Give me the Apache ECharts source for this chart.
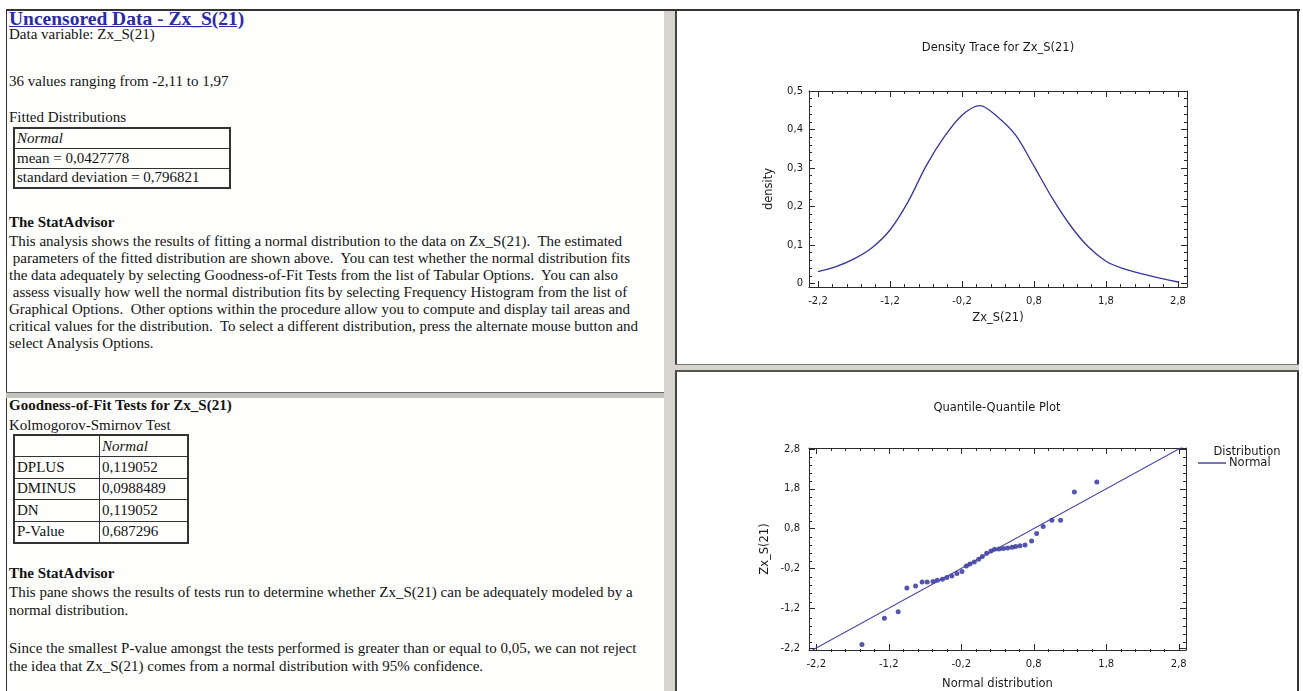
<!DOCTYPE html>
<html><head><meta charset="utf-8">
<script src="https://cdn.jsdelivr.net/npm/echarts@6/dist/echarts.min.js"></script>
<style>
html,body{margin:0;padding:0;width:1303px;height:691px;overflow:hidden;background:#ffffff;}
.abs{position:absolute;}
.serif{font-family:"Liberation Serif","Times New Roman",serif;color:#141414;font-size:15px;line-height:17px;white-space:pre;}
.pane{position:absolute;background:#fefefc;box-sizing:border-box;}
table.st{position:absolute;border-collapse:collapse;border:2px solid #333;font-family:"Liberation Serif","Times New Roman",serif;font-size:15px;line-height:17px;color:#141414;}
table.st td{border:1px solid #333;padding:0 2px;white-space:nowrap;}
#chart{position:absolute;left:0;top:0;width:1303px;height:691px;z-index:5;}
</style></head>
<body>
<!-- frame -->
<div class="pane" style="left:6px;top:11px;width:658px;height:381px;border-left:1px solid #333;"></div>
<div class="abs" style="left:6px;top:392px;width:658px;height:6px;background:#c4c4bc;border-top:1px solid #666;box-sizing:border-box;"></div>
<div class="pane" style="left:6px;top:398px;width:658px;height:293px;border-left:1px solid #333;"></div>
<div class="abs" style="left:664px;top:11px;width:11px;height:680px;background:#d6d4cc;"></div>
<div class="pane" style="left:675px;top:11px;width:624px;height:353px;background:#fff;border-left:2px solid #444;border-right:2px solid #333;"></div>
<div class="abs" style="left:675px;top:364px;width:624px;height:8px;background:#d6d4cc;border-top:1px solid #777;border-bottom:2px solid #555;box-sizing:border-box;"></div>
<div class="pane" style="left:675px;top:372px;width:624px;height:319px;background:#fff;border-left:2px solid #444;border-right:2px solid #333;"></div>
<div class="abs" style="left:6px;top:9px;width:1294px;height:2px;background:#333;"></div>

<!-- left top text -->
<div class="abs serif" style="left:9px;top:8px;font-size:19.5px;line-height:22px;font-weight:bold;color:#2b2ba6;text-decoration:underline;">Uncensored Data - Zx_S(21)</div>
<div class="abs serif" style="left:9px;top:25.5px;">Data variable: Zx_S(21)</div>
<div class="abs serif" style="left:9px;top:72.5px;">36 values ranging from -2,11 to 1,97</div>
<div class="abs serif" style="left:9px;top:108.5px;">Fitted Distributions</div>
<table class="st" style="left:13px;top:127px;width:218px;">
<tr style="height:20px"><td><i>Normal</i></td></tr>
<tr style="height:20px"><td>mean = 0,0427778</td></tr>
<tr style="height:20px"><td>standard deviation = 0,796821</td></tr>
</table>
<div class="abs serif" style="left:9px;top:213.5px;font-weight:bold;">The StatAdvisor</div>
<div class="abs serif" style="left:9px;top:232.5px;">This analysis shows the results of fitting a normal distribution to the data on Zx_S(21).  The estimated
 parameters of the fitted distribution are shown above.  You can test whether the normal distribution fits
the data adequately by selecting Goodness-of-Fit Tests from the list of Tabular Options.  You can also
 assess visually how well the normal distribution fits by selecting Frequency Histogram from the list of
Graphical Options.  Other options within the procedure allow you to compute and display tail areas and
critical values for the distribution.  To select a different distribution, press the alternate mouse button and
select Analysis Options.</div>

<!-- left bottom text -->
<div class="abs serif" style="left:9px;top:396.5px;font-weight:bold;">Goodness-of-Fit Tests for Zx_S(21)</div>
<div class="abs serif" style="left:9px;top:416.5px;">Kolmogorov-Smirnov Test</div>
<table class="st" style="left:13px;top:434px;width:176px;">
<tr style="height:21.6px"><td style="width:80px"></td><td><i>Normal</i></td></tr>
<tr style="height:21.6px"><td>DPLUS</td><td>0,119052</td></tr>
<tr style="height:21.6px"><td>DMINUS</td><td>0,0988489</td></tr>
<tr style="height:21.6px"><td>DN</td><td>0,119052</td></tr>
<tr style="height:21.6px"><td>P-Value</td><td>0,687296</td></tr>
</table>
<div class="abs serif" style="left:9px;top:564.5px;font-weight:bold;">The StatAdvisor</div>
<div class="abs serif" style="left:9px;top:582.6px;line-height:18.7px;">This pane shows the results of tests run to determine whether Zx_S(21) can be adequately modeled by a
normal distribution.

Since the smallest P-value amongst the tests performed is greater than or equal to 0,05, we can not reject
the idea that Zx_S(21) comes from a normal distribution with 95% confidence.</div>

<div id="chart"></div>
<script>
// ---- data ----
const densityX = [-2.2, -1.95, -1.7, -1.45, -1.2, -0.95, -0.7, -0.45, -0.2, 0.05, 0.3, 0.55, 0.8, 1.05, 1.3, 1.55, 1.8, 2.05, 2.3, 2.55, 2.8];
const densityY = [0.031, 0.044, 0.064, 0.093, 0.139, 0.212, 0.305, 0.380, 0.437, 0.462, 0.432, 0.384, 0.305, 0.223, 0.152, 0.096, 0.058, 0.038, 0.025, 0.014, 0.004];

const qqTheoretical = [-1.57, -1.26, -1.07, -0.95, -0.83, -0.74, -0.67, -0.59, -0.53, -0.46, -0.40, -0.33, -0.26, -0.19,
  -0.13, -0.08, -0.02, 0.04, 0.09, 0.15, 0.21, 0.26, 0.32, 0.38, 0.44, 0.50, 0.55,
  0.61, 0.68, 0.77, 0.84, 0.93, 1.05, 1.17, 1.36, 1.67];
const qqSample = [-2.11, -1.45, -1.29, -0.69, -0.64, -0.54, -0.54, -0.53, -0.50, -0.47, -0.43, -0.39, -0.33, -0.28,
  -0.14, -0.09, -0.04, 0.03, 0.10, 0.18, 0.24, 0.28, 0.29, 0.30, 0.31, 0.33, 0.35,
  0.37, 0.39, 0.49, 0.68, 0.85, 1.01, 1.01, 1.72, 1.97];

const fitLineX = [-2.3, 2.9];
const fitLineY = [-2.3, 2.9];

const xTickValues = [-2.2, -1.2, -0.2, 0.8, 1.8, 2.8];
const xTickLabels = ['-2,2', '-1,2', '-0,2', '0,8', '1,8', '2,8'];
const densityYTickValues = [0, 0.1, 0.2, 0.3, 0.4, 0.5];
const densityYTickLabels = ['0', '0,1', '0,2', '0,3', '0,4', '0,5'];
const qqYTickValues = [-2.2, -1.2, -0.2, 0.8, 1.8, 2.8];
const qqYTickLabels = ['-2,2', '-1,2', '-0,2', '0,8', '1,8', '2,8'];

// ---- helpers ----
const FONT = 'DejaVu Sans';
const AX = '#2a2a2a';
const TXT = '#1a1a1a';
function minorValues(ticks, n, min, max) {
  const step = (ticks[1] - ticks[0]) / n;
  const out = [];
  const k0 = Math.ceil((min - ticks[0]) / step - 1e-9);
  const k1 = Math.floor((max - ticks[0]) / step + 1e-9);
  for (let k = k0; k <= k1; k++) {
    if (((k % n) + n) % n === 0) continue;
    out.push(Math.round((ticks[0] + k * step) * 10000) / 10000);
  }
  return out;
}
function labeler(vals, labels) {
  return function (v) {
    for (let i = 0; i < vals.length; i++) if (Math.abs(vals[i] - v) < 1e-6) return labels[i];
    return '';
  };
}
function axis(o) {
  const a = {
    type: 'value', gridIndex: o.grid, position: o.pos, min: o.min, max: o.max,
    axisLine: { show: !o.minor, onZero: false, lineStyle: { color: AX, width: 1 } },
    axisTick: { show: true, inside: true, length: o.minor ? 3 : 6, customValues: o.ticks, lineStyle: { color: AX, width: 1 } },
    axisLabel: { show: !!o.labels, margin: o.margin || 8, fontSize: 10, color: TXT, fontFamily: FONT },
    splitLine: { show: false }
  };
  if (o.labels) {
    a.axisLabel.customValues = o.ticks;
    a.axisLabel.formatter = labeler(o.ticks, o.labels);
  }
  if (o.name) {
    a.name = o.name; a.nameLocation = 'middle'; a.nameGap = o.nameGap;
    a.nameTextStyle = { fontSize: 11.5, color: TXT, fontFamily: FONT };
  }
  return a;
}

const dXMin = -2.325, dXMax = 2.925, dYMin = -0.009, dYMax = 0.5;
const qXMin = -2.3, qXMax = 2.9, qYMin = -2.25, qYMax = 2.825;
const dXMinor = minorValues(xTickValues, 5, dXMin, dXMax);
const dYMinor = minorValues(densityYTickValues, 5, dYMin, dYMax);
const qXMinor = minorValues(xTickValues, 5, qXMin, qXMax);
const qYMinor = minorValues(qqYTickValues, 5, qYMin, qYMax);

const gDensity = { left: 809, top: 91, width: 378, height: 196 };
const gQQ = { left: 809, top: 448, width: 377, height: 204 };

const option = {
  animation: false,
  backgroundColor: 'transparent',
  grid: [
    Object.assign({ containLabel: false }, gDensity),
    Object.assign({ containLabel: false }, gDensity),
    Object.assign({ containLabel: false }, gQQ),
    Object.assign({ containLabel: false }, gQQ)
  ],
  xAxis: [
    axis({ grid: 0, pos: 'bottom', min: dXMin, max: dXMax, ticks: xTickValues, labels: xTickLabels, margin: 9, name: 'Zx_S(21)', nameGap: 25 }),
    axis({ grid: 0, pos: 'top', min: dXMin, max: dXMax, ticks: xTickValues }),
    axis({ grid: 1, pos: 'bottom', min: dXMin, max: dXMax, ticks: dXMinor, minor: true }),
    axis({ grid: 1, pos: 'top', min: dXMin, max: dXMax, ticks: dXMinor, minor: true }),
    axis({ grid: 2, pos: 'bottom', min: qXMin, max: qXMax, ticks: xTickValues, labels: xTickLabels, margin: 9, name: 'Normal distribution', nameGap: 28 }),
    axis({ grid: 2, pos: 'top', min: qXMin, max: qXMax, ticks: xTickValues }),
    axis({ grid: 3, pos: 'bottom', min: qXMin, max: qXMax, ticks: qXMinor, minor: true }),
    axis({ grid: 3, pos: 'top', min: qXMin, max: qXMax, ticks: qXMinor, minor: true })
  ],
  yAxis: [
    axis({ grid: 0, pos: 'left', min: dYMin, max: dYMax, ticks: densityYTickValues, labels: densityYTickLabels, margin: 6, name: 'density', nameGap: 34 }),
    axis({ grid: 0, pos: 'right', min: dYMin, max: dYMax, ticks: densityYTickValues }),
    axis({ grid: 1, pos: 'left', min: dYMin, max: dYMax, ticks: dYMinor, minor: true }),
    axis({ grid: 1, pos: 'right', min: dYMin, max: dYMax, ticks: dYMinor, minor: true }),
    axis({ grid: 2, pos: 'left', min: qYMin, max: qYMax, ticks: qqYTickValues, labels: qqYTickLabels, margin: 9, name: 'Zx_S(21)', nameGap: 38 }),
    axis({ grid: 2, pos: 'right', min: qYMin, max: qYMax, ticks: qqYTickValues }),
    axis({ grid: 3, pos: 'left', min: qYMin, max: qYMax, ticks: qYMinor, minor: true }),
    axis({ grid: 3, pos: 'right', min: qYMin, max: qYMax, ticks: qYMinor, minor: true })
  ],
  legend: {
    data: ['Normal'], left: 1198, top: 457, icon: 'rect', itemWidth: 28, itemHeight: 1.5,
    itemGap: 4, padding: 0,
    textStyle: { fontSize: 11.5, color: TXT, fontFamily: FONT, padding: [0, 0, 0, -2] }
  },
  graphic: [
    { type: 'text', x: 998, y: 48, style: { text: 'Density Trace for Zx_S(21)', fill: TXT, font: '11.5px "DejaVu Sans"', textAlign: 'center', textVerticalAlign: 'middle' } },
    { type: 'text', x: 997, y: 408, style: { text: 'Quantile-Quantile Plot', fill: TXT, font: '11.5px "DejaVu Sans"', textAlign: 'center', textVerticalAlign: 'middle' } },
    { type: 'text', x: 1247, y: 452, style: { text: 'Distribution', fill: TXT, font: '11.5px "DejaVu Sans"', textAlign: 'center', textVerticalAlign: 'middle' } }
  ],
  series: [
    {
      name: 'Density', type: 'line', xAxisIndex: 0, yAxisIndex: 0,
      data: densityX.map((x, i) => [x, densityY[i]]),
      showSymbol: false, smooth: 0.3, lineStyle: { color: '#3535a0', width: 1.3 }
    },
    {
      name: 'Normal', type: 'line', xAxisIndex: 4, yAxisIndex: 4,
      data: fitLineX.map((x, i) => [x, fitLineY[i]]),
      showSymbol: false, clip: true, lineStyle: { color: '#4646ac', width: 1.1 }, itemStyle: { color: '#4646ac' }
    },
    {
      name: 'Data', type: 'scatter', xAxisIndex: 4, yAxisIndex: 4,
      data: qqTheoretical.map((x, i) => [x, qqSample[i]]),
      symbolSize: 5, itemStyle: { color: '#2a2a96' }
    }
  ]
};
const chart = echarts.init(document.getElementById('chart'), null, { renderer: 'canvas' });
chart.setOption(option);
</script>
</body></html>
